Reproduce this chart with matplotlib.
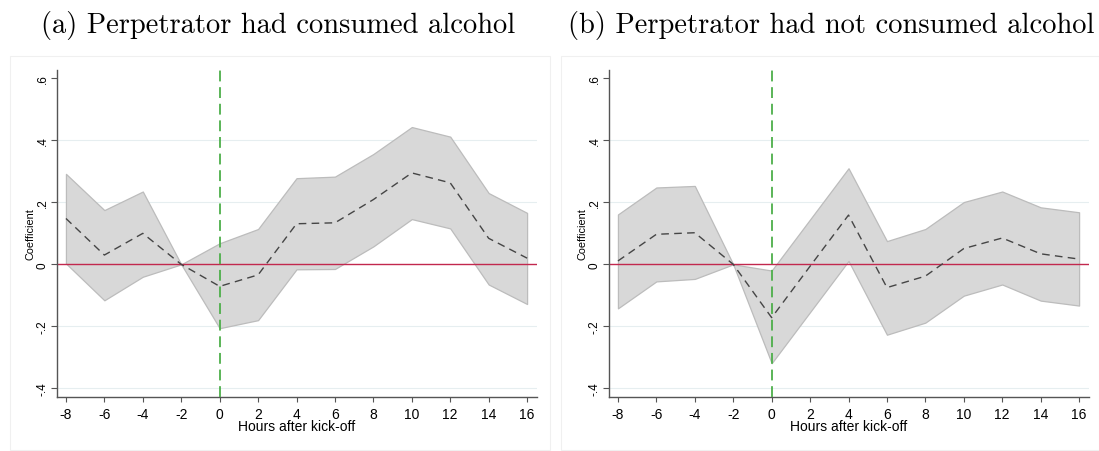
import matplotlib
matplotlib.use("Agg")
import matplotlib.pyplot as plt
from matplotlib.patches import Rectangle

hours = [-8, -6, -4, -2, 0, 2, 4, 6, 8, 10, 12, 14, 16]

a_coef = [0.148, 0.030, 0.100, 0.0, -0.071, -0.034, 0.131, 0.134, 0.209, 0.295, 0.263, 0.084, 0.020]
a_upper = [0.292, 0.175, 0.235, 0.0, 0.068, 0.114, 0.278, 0.283, 0.356, 0.443, 0.412, 0.230, 0.166]
a_lower = [0.003, -0.116, -0.040, 0.0, -0.206, -0.180, -0.016, -0.015, 0.058, 0.146, 0.116, -0.065, -0.128]

b_coef = [0.011, 0.097, 0.102, 0.0, -0.172, -0.006, 0.159, -0.075, -0.038, 0.051, 0.085, 0.034, 0.017]
b_upper = [0.161, 0.248, 0.253, 0.0, -0.020, 0.145, 0.310, 0.075, 0.114, 0.201, 0.235, 0.184, 0.168]
b_lower = [-0.142, -0.055, -0.047, 0.0, -0.319, -0.154, 0.011, -0.227, -0.188, -0.101, -0.065, -0.117, -0.133]

titles = ["(a) Perpetrator had consumed alcohol", "(b) Perpetrator had not consumed alcohol"]
yticks = [-0.4, -0.2, 0.0, 0.2, 0.4, 0.6]
ytick_labels = ["-.4", "-.2", "0", ".2", ".4", ".6"]
xlabel = "Hours after kick-off"
ylabel = "Coefficient"

W, H = 1099, 452
fig = plt.figure(figsize=(W / 100, H / 100), dpi=100)
fig.patch.set_facecolor("white")

sans = ["Liberation Sans", "DejaVu Sans"]

panels = [
    dict(ax=(57.3, 70.7, 536.7, 397.7), frame=(10, 57, 550.5, 451), title_x=278.5,
         coef=a_coef, up=a_upper, lo=a_lower, title=titles[0]),
    dict(ax=(609.3, 70.7, 1088.7, 397.7), frame=(561, 57, 1098.5, 451), title_x=831,
         coef=b_coef, up=b_upper, lo=b_lower, title=titles[1]),
]

for p in panels:
    fx0, fy0, fx1, fy1 = p["frame"]
    fig.patches.append(Rectangle((fx0 / W, 1 - fy1 / H), (fx1 - fx0) / W, (fy1 - fy0) / H,
                                 transform=fig.transFigure, fill=False,
                                 edgecolor="#f0f0f0", linewidth=0.8))
    x0, y0, x1, y1 = p["ax"]
    ax = fig.add_axes([x0 / W, 1 - y1 / H, (x1 - x0) / W, (y1 - y0) / H])
    ax.set_xlim(-8.45, 16.5)
    ax.set_ylim(-0.427, 0.628)
    for yg in [-0.4, -0.2, 0.2, 0.4]:
        ax.axhline(yg, color="#e6eef0", linewidth=0.8, zorder=0)
    ax.fill_between(hours, p["lo"], p["up"], facecolor="#d8d8d8", edgecolor="#bcbcbc",
                    linewidth=0.9, zorder=1)
    ax.axhline(0, color="#c2284e", linewidth=1.0, zorder=2)
    ax.axvline(0, color="#4daf4a", linewidth=1.3, linestyle=(0, (6, 3.2)), zorder=3)
    ax.plot(hours, p["coef"], color="#454545", linewidth=1.0, linestyle=(0, (5.5, 3.8)), zorder=4)

    ax.set_xticks(hours)
    ax.set_xticklabels([str(h) for h in hours], fontfamily=sans, fontsize=10)
    ax.set_yticks(yticks)
    ax.set_yticklabels(ytick_labels, fontfamily=sans, fontsize=8.5, rotation=90, va="center")
    ax.tick_params(axis="x", length=3.6, width=0.8, color="#555555", pad=3.5)
    ax.tick_params(axis="y", length=4.5, width=0.8, color="#555555", pad=1.5)
    for s in ["top", "right"]:
        ax.spines[s].set_visible(False)
    for s in ["left", "bottom"]:
        ax.spines[s].set_color("#555555")
        ax.spines[s].set_linewidth(1.0)
    ax.set_xlabel(xlabel, fontfamily=sans, fontsize=10, labelpad=-1)
    ax.set_ylabel(ylabel, fontfamily=sans, fontsize=7.8, labelpad=1)
    ax.set_facecolor("white")

    fig.text(p["title_x"] / W, 1 - 25 / H, p["title"], family=["cmr10", "DejaVu Serif"],
             fontsize=20.5, ha="center", va="center")

fig.savefig("out.png", dpi=100)
